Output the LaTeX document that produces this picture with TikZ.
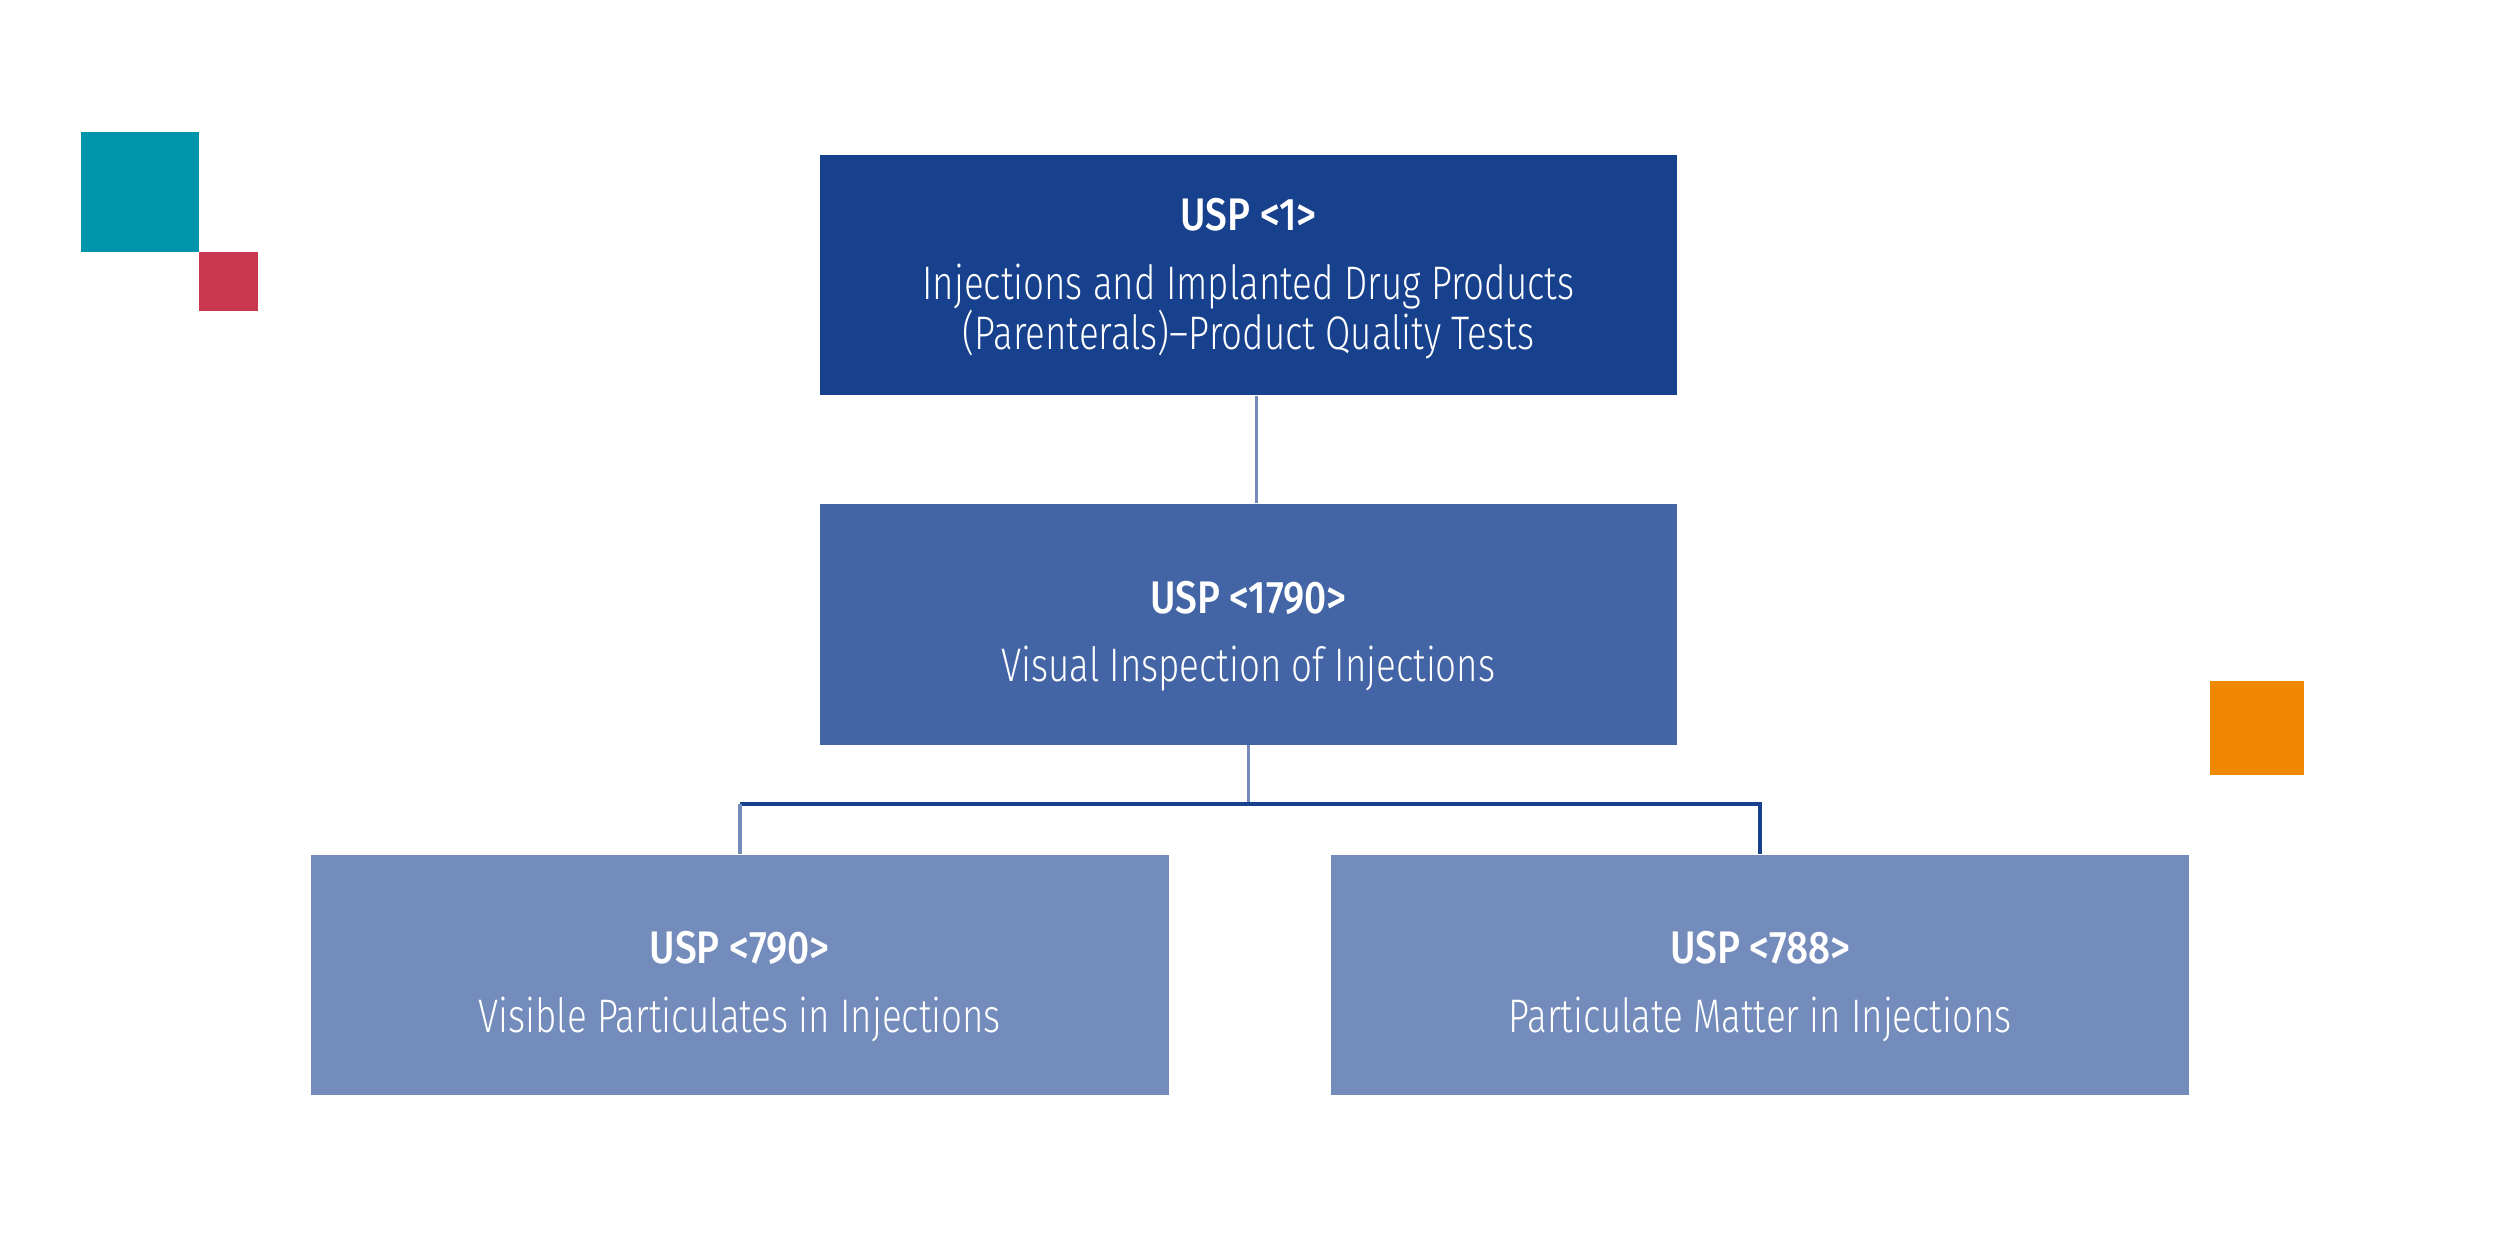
\documentclass[tikz,border=0pt]{standalone}
\usepackage{fontspec}
\setmainfont{Fira Sans}[UprightFont=* Light, BoldFont=* Medium, UprightFeatures={FakeStretch=0.78}, BoldFeatures={FakeStretch=0.85}]
\definecolor{dkblue}{HTML}{17408D}
\definecolor{mdblue}{HTML}{4465A5}
\definecolor{ltblue}{HTML}{738CBB}
\definecolor{teal}{HTML}{0095AA}
\definecolor{crim}{HTML}{C8374E}
\definecolor{orng}{HTML}{F08700}
\tikzset{
  box/.style={rectangle, minimum width=8.578cm, minimum height=2.407cm, inner sep=0pt,
    text=white, align=center, font=\fontsize{13.4}{14.2}\selectfont},
  conn/.style={line width=1pt}
}
\newcommand{\ttltext}[2]{\rule{0pt}{#1}{\fontsize{13}{14}\selectfont\bfseries #2}\\[5.3pt]}
\begin{document}
\begin{tikzpicture}
\useasboundingbox (0,0) rectangle (25,12.5);
\fill[teal] (0.81,11.18) rectangle (1.99,9.98);
\fill[crim] (1.99,9.98) rectangle (2.58,9.39);
\fill[orng] (22.10,5.69) rectangle (23.04,4.75);
\node[box, fill=dkblue] (top) at (12.484,9.75) {\ttltext{0.40cm}{USP <1>}Injections and Implanted Drug Products\\(Parenterals)–Product Quality Tests};
\node[box, fill=mdblue] (mid) at (12.484,6.258) {\ttltext{0.56cm}{USP <1790>}Visual Inspection of Injections};
\node[box, fill=ltblue] (left) at (7.398,2.75) {\ttltext{0.56cm}{USP <790>}Visible Particulates in Injections};
\node[box, fill=ltblue] (right) at (17.602,2.75) {\ttltext{0.56cm}{USP <788>}Particulate Matter in Injections};
\path (mid.south) ++(0,-0.59) coordinate (split);
\draw[conn, ltblue] ([xshift=0.08cm]top.south) -- ([xshift=0.08cm]mid.north);
\draw[conn, ltblue] (mid.south) -- (split);
\draw[conn, dkblue] (left.north |- split) -- (right.north |- split) -- (right.north);
\draw[conn, ltblue] (left.north |- split) -- (left.north);
\end{tikzpicture}
\end{document}
